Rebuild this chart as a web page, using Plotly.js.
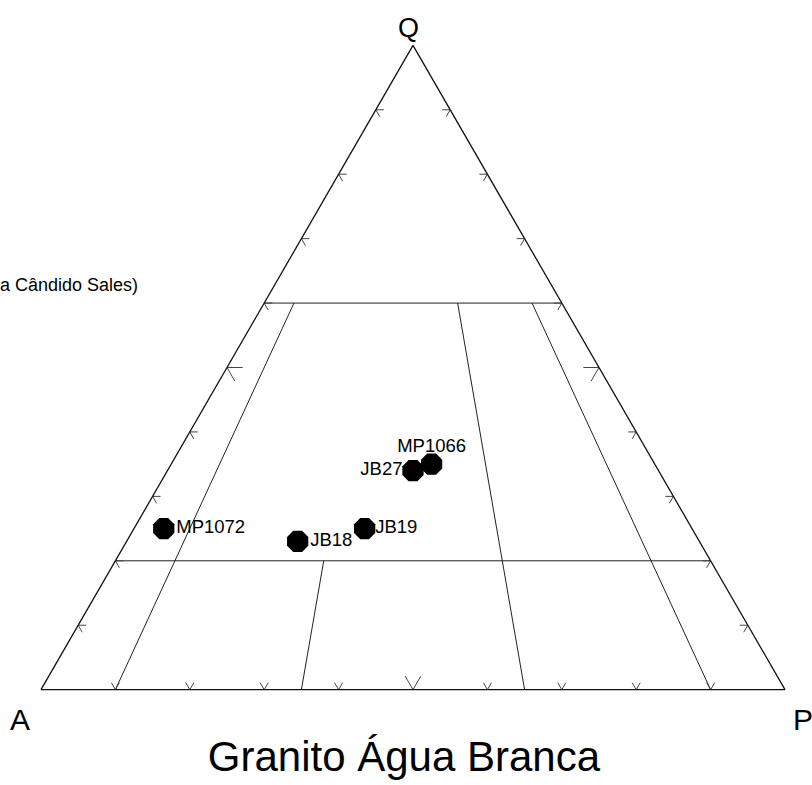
<!DOCTYPE html>
<html><head><meta charset="utf-8">
<script src="https://cdn.plot.ly/plotly-3.0.1.min.js"></script>
<style>html,body{margin:0;padding:0;background:#fff}#chart{width:812px;height:785px}</style>
</head><body><div id="chart"></div>
<script>
// Sample data (Q, A, P fractions)
const sampleNames = ['MP1072','JB18','JB19','JB27','MP1066'];
const sampleQ = [0.25,0.23,0.25,0.34,0.35];
const sampleA = [0.71,0.54,0.44,0.33,0.30];
const sampleP = [0.04,0.23,0.31,0.33,0.35];
const labelPositions = ['middle right','middle right','middle right','middle left','top center'];
const labelGap = [18.4, 18.4, 15.2, 15.2, 11.2]; // invisible spacer size controlling label offset

// Streckeisen field boundaries
const qLevels = [0.6, 0.2];                 // horizontal Q lines
const ratioLines = [0.10, 0.35, 0.65, 0.90]; // P/(A+P)
const ratioTopQ = [0.6, 0.2, 0.6, 0.6];      // Q where each ratio line starts

const tickVals = [0.1,0.2,0.3,0.4,0.5,0.6,0.7,0.8,0.9];
const vertexLabels = ['Q','A','P'];
const titleText = 'Granito Água Branca';
const legendFragment = 'a Cândido Sales)';

const FONT = 'Liberation Sans, Arial, Helvetica, sans-serif';

// boundary lines
const fa=[], fb=[], fc=[];
qLevels.forEach(q => { fa.push(q,q,null); fb.push(1-q,0,null); fc.push(0,1-q,null); });
ratioLines.forEach((r,i) => {
  const t = ratioTopQ[i];
  fa.push(t,0,null); fb.push((1-t)*(1-r),1-r,null); fc.push((1-t)*r,r,null);
});

// chevron tick marks on the three edges
const ka=[], kb=[], kc=[];
tickVals.forEach(t => {
  const d = Math.abs(t-0.5) < 1e-9 ? 0.021 : 0.0108;
  // left edge (P = 0), t = Q
  ka.push(t,t,t-d,null); kb.push(1-t-d,1-t,1-t,null); kc.push(d,0,d,null);
  // bottom edge (Q = 0), t = P
  ka.push(d,0,d,null); kb.push(1-t,1-t,1-t-d,null); kc.push(t-d,t,t,null);
  // right edge (A = 0), t = Q
  ka.push(t,t,t-d,null); kb.push(d,0,d,null); kc.push(1-t-d,1-t,1-t,null);
});

const traces = [
  {type:'scatterternary', mode:'lines', a:fa, b:fb, c:fc,
   line:{color:'#222', width:1}, hoverinfo:'skip', showlegend:false},
  {type:'scatterternary', mode:'lines', a:ka, b:kb, c:kc,
   line:{color:'#444', width:1}, hoverinfo:'skip', showlegend:false},
  {type:'scatterternary', mode:'markers', a:sampleQ, b:sampleA, c:sampleP,
   marker:{symbol:'octagon', size:23, color:'#000', line:{width:0}},
   showlegend:false},
  {type:'scatterternary', mode:'markers+text', a:sampleQ, b:sampleA, c:sampleP,
   text:sampleNames, textposition:labelPositions, cliponaxis:false,
   textfont:{family:FONT, size:18.5, color:'#000'},
   marker:{size:labelGap, color:'rgba(0,0,0,0)', opacity:0, line:{width:0}},
   hoverinfo:'skip', showlegend:false}
];

const axisStyle = {showline:true, linecolor:'#111', linewidth:1.3, showgrid:false,
  ticks:'', showticklabels:false, title:{text:''}};

const layout = {
  width:812, height:785,
  margin:{l:41, r:27, t:45, b:95, pad:0},
  paper_bgcolor:'#fff', plot_bgcolor:'#fff',
  showlegend:false,
  font:{family:FONT, color:'#000'},
  title:{text:titleText, font:{family:FONT, size:42, color:'#000'},
    x:0.4975, xref:'container', xanchor:'center', y:0.036, yref:'container', yanchor:'middle'},
  ternary:{sum:1, bgcolor:'rgba(0,0,0,0)', domain:{x:[0,1], y:[0,1]},
    aaxis:axisStyle, baxis:axisStyle, caxis:axisStyle},
  annotations:[
    {text:vertexLabels[0], xref:'paper', yref:'paper', x:0.4946, y:1.027, showarrow:false,
     xanchor:'center', yanchor:'middle', font:{family:FONT, size:27, color:'#000'}},
    {text:vertexLabels[1], xref:'paper', yref:'paper', x:-0.0282, y:-0.045, showarrow:false,
     xanchor:'center', yanchor:'middle', font:{family:FONT, size:30, color:'#000'}},
    {text:vertexLabels[2], xref:'paper', yref:'paper', x:1.0242, y:-0.045, showarrow:false,
     xanchor:'center', yanchor:'middle', font:{family:FONT, size:30, color:'#000'}},
    {text:legendFragment, xref:'paper', yref:'paper', x:-0.0578, y:0.628, showarrow:false,
     xanchor:'left', yanchor:'middle', font:{family:FONT, size:18, color:'#000'}}
  ]
};

Plotly.newPlot('chart', traces, layout, {staticPlot:true, displayModeBar:false});
</script>
</body></html>
